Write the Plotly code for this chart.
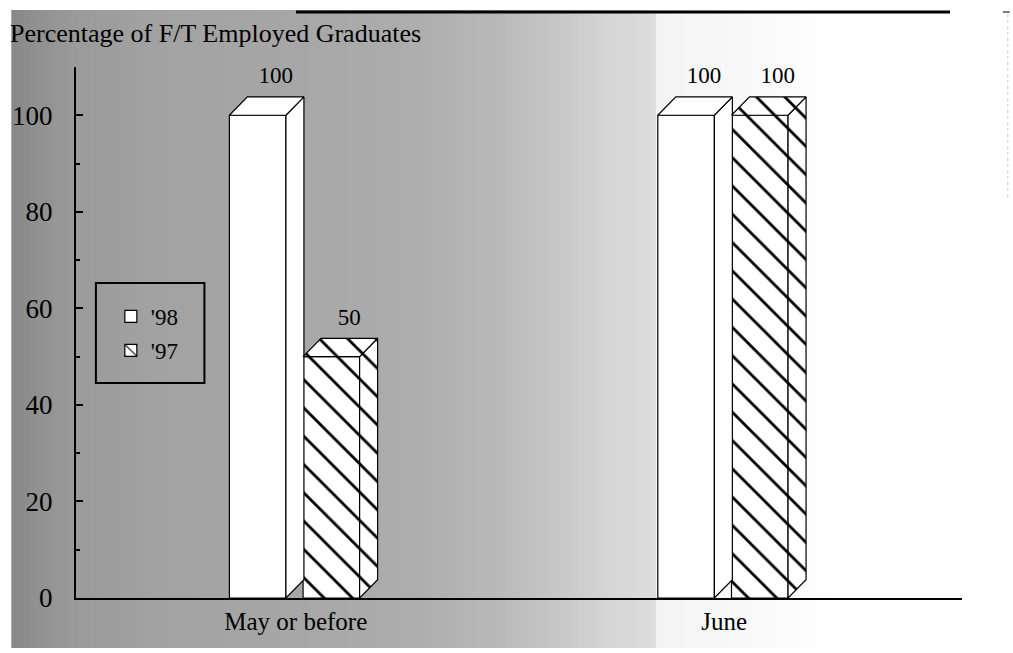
import plotly.graph_objects as go

# ---------------- data ----------------
categories = ["May or before", "June"]
series_names = ["'98", "'97"]
values_98 = [100, 100]
values_97 = [50, 100]
y_ticks = [0, 20, 40, 60, 80, 100]
title_text = "Percentage of F/T Employed Graduates"

# ---------------- styling / geometry ----------------
W, H = 1013, 653
PX_L, PX_R, PX_T, PX_B = 72, 962, 67, 598
X_RANGE = [-0.513, 1.555]
Y_RANGE = [0, 110]
BAR_W = 0.132
OFFSETS = [-0.155, 0.017]
DX = 0.042   # 3D depth in x units
DY = 3.8     # 3D depth in y units
SERIF = "Liberation Serif, Times New Roman, serif"


def pxx(p):
    return (p - PX_L) / (PX_R - PX_L)


def pxy(p):
    return (PX_B - p) / (PX_B - PX_T)


cat_pos = list(range(len(categories)))
HATCH = dict(shape="\\", size=20, solidity=0.14, fgcolor="black", fgopacity=1,
             bgcolor="white", fillmode="overlay")

fig = go.Figure()

series = [values_98, values_97]
for si, (name, vals) in enumerate(zip(series_names, series)):
    marker = dict(color="white", line=dict(color="black", width=1.2), opacity=1)
    if si == 1:
        marker["pattern"] = HATCH
    fig.add_trace(go.Bar(
        x=cat_pos, y=vals, name=name, width=BAR_W, offset=OFFSETS[si],
        marker=marker, legendgroup=name, hoverinfo="skip",
    ))
    # 3D side and top faces, computed from each value
    for c, v in zip(cat_pos, vals):
        x0 = c + OFFSETS[si]
        x1 = x0 + BAR_W
        side_x = [x1, x1 + DX, x1 + DX, x1, x1]
        side_y = [0, DY, v + DY, v, 0]
        top_x = [x0, x0 + DX, x1 + DX, x1, x0]
        top_y = [v, v + DY, v + DY, v, v]
        for fx, fy in ((side_x, side_y), (top_x, top_y)):
            kw = dict(fillcolor="white")
            if si == 1:
                kw["fillpattern"] = HATCH
            fig.add_trace(go.Scatter(
                x=fx, y=fy, mode="lines", fill="toself",
                line=dict(color="black", width=1.2),
                showlegend=False, hoverinfo="skip", **kw,
            ))
    # value labels above each 3D bar
    fig.add_trace(go.Scatter(
        x=[c + OFFSETS[si] + BAR_W / 2 + DX for c in cat_pos],
        y=[v + DY + 4.0 for v in vals],
        text=[str(v) for v in vals], mode="text",
        textfont=dict(family=SERIF, size=23, color="black"),
        showlegend=False, hoverinfo="skip",
    ))

# ---------------- background (scanned gradient) ----------------
shapes = []
stops = [(7, 136), (30, 144), (70, 154), (150, 162), (300, 167), (420, 174),
         (500, 186), (560, 200), (610, 214), (655, 222)]
stops2 = [(655, 244), (720, 247), (800, 252), (840, 255)]


def interp(st, p):
    for (a, ga), (b, gb) in zip(st[:-1], st[1:]):
        if a <= p <= b:
            return ga + (gb - ga) * (p - a) / (b - a)
    return st[-1][1]


for seg in (stops, stops2):
    p = seg[0][0]
    end = seg[-1][0]
    while p < end:
        q = min(p + 6, end)
        g = int(round(interp(seg, (p + q) / 2)))
        q_draw = q + 1 if q < end else q
        shapes.append(dict(type="rect", xref="paper", yref="paper",
                           x0=pxx(p), x1=pxx(q_draw), y0=pxy(648), y1=pxy(10),
                           fillcolor=f"rgb({g},{g},{g})", line=dict(width=0), layer="below"))
        p = q

# top black rule
shapes.append(dict(type="line", xref="paper", yref="paper", x0=pxx(293), x1=pxx(950),
                   y0=pxy(12), y1=pxy(12), line=dict(color="black", width=3)))
shapes.append(dict(type="line", xref="paper", yref="paper", x0=pxx(1003), x1=pxx(1010),
                   y0=pxy(12), y1=pxy(12), line=dict(color="#555", width=1.5)))
shapes.append(dict(type="line", xref="paper", yref="paper", x0=pxx(1008), x1=pxx(1008),
                   y0=pxy(14), y1=pxy(200), line=dict(color="#ccc", width=1, dash="dot")))
# legend frame
shapes.append(dict(type="rect", xref="paper", yref="paper", x0=pxx(92), x1=pxx(201),
                   y0=pxy(383), y1=pxy(283), line=dict(color="black", width=2),
                   fillcolor="rgba(0,0,0,0)"))

fig.update_layout(
    width=W, height=H,
    margin=dict(l=PX_L, r=W - PX_R, t=PX_T, b=H - PX_B, pad=0),
    paper_bgcolor="white", plot_bgcolor="rgba(0,0,0,0)",
    barmode="overlay",
    font=dict(family=SERIF, size=24, color="black"),
    shapes=shapes,
    showlegend=True,
    legend=dict(x=pxx(107), y=pxy(295), xanchor="left", yanchor="top",
                bgcolor="rgba(0,0,0,0)", borderwidth=0, tracegroupgap=1,
                font=dict(family=SERIF, size=23, color="black")),
    annotations=[dict(text=title_text, xref="paper", yref="paper", x=pxx(4), y=pxy(33),
                      xanchor="left", yanchor="middle", showarrow=False,
                      font=dict(family=SERIF, size=26, color="black"))],
)
fig.update_xaxes(range=X_RANGE, tickvals=cat_pos, ticktext=categories, ticks="",
                 showline=True, linecolor="black", linewidth=2, showgrid=False,
                 zeroline=False, tickfont=dict(family=SERIF, size=25), ticklabelstandoff=0,
                 fixedrange=True)
fig.update_yaxes(range=Y_RANGE, tickvals=y_ticks, ticks="inside", ticklen=7, tickwidth=1.5,
                 tickcolor="black", showline=True, linecolor="black", linewidth=2,
                 showgrid=False, zeroline=False, tickfont=dict(family=SERIF, size=27),
                 ticklabelstandoff=16,
                 minor=dict(dtick=10, ticks="inside", ticklen=4, tickcolor="black"),
                 fixedrange=True)

fig.write_html(
    "out.html",
    config={"displayModeBar": False, "staticPlot": False},
    post_script="document.body.style.margin='0';document.body.style.padding='0';",
)
